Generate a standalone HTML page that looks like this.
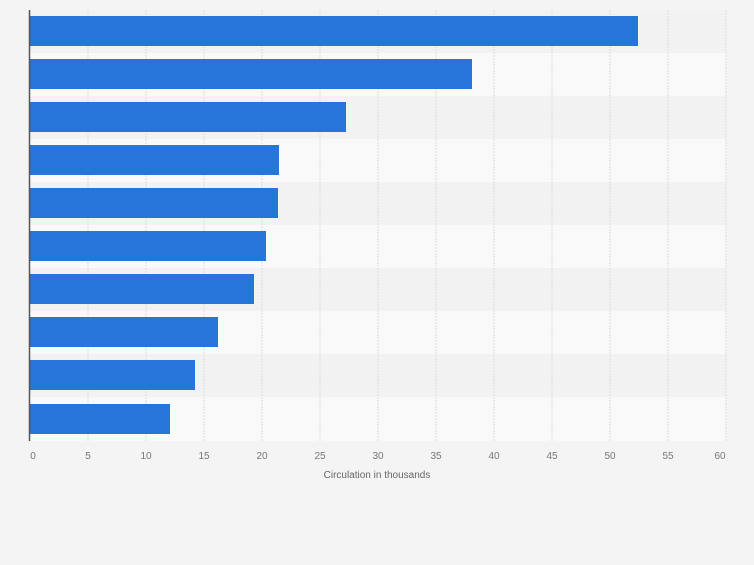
<!DOCTYPE html>
<html><head><style>
body{margin:0;background:#f4f4f4;}
</style></head><body>
<svg width="754" height="560" xmlns="http://www.w3.org/2000/svg" font-family="Liberation Sans, sans-serif">
<rect width="754" height="560" fill="#f4f4f4"/>
<g>
<rect x="30" y="10" width="696" height="43" fill="#f2f2f2"/>
<rect x="30" y="53" width="696" height="43" fill="#f9f9f9"/>
<rect x="30" y="96" width="696" height="43" fill="#f2f2f2"/>
<rect x="30" y="139" width="696" height="43" fill="#f9f9f9"/>
<rect x="30" y="182" width="696" height="43" fill="#f2f2f2"/>
<rect x="30" y="225" width="696" height="43" fill="#f9f9f9"/>
<rect x="30" y="268" width="696" height="43" fill="#f2f2f2"/>
<rect x="30" y="311" width="696" height="43" fill="#f9f9f9"/>
<rect x="30" y="354" width="696" height="43" fill="#f2f2f2"/>
<rect x="30" y="397" width="696" height="44" fill="#f9f9f9"/>
</g>
<g stroke="#dcdcdc" stroke-dasharray="2,1" stroke-width="1">
<line x1="88" y1="10" x2="88" y2="441"/><line x1="146" y1="10" x2="146" y2="441"/>
<line x1="204" y1="10" x2="204" y2="441"/><line x1="262" y1="10" x2="262" y2="441"/>
<line x1="320" y1="10" x2="320" y2="441"/><line x1="378" y1="10" x2="378" y2="441"/>
<line x1="436" y1="10" x2="436" y2="441"/><line x1="494" y1="10" x2="494" y2="441"/>
<line x1="552" y1="10" x2="552" y2="441"/><line x1="610" y1="10" x2="610" y2="441"/>
<line x1="668" y1="10" x2="668" y2="441"/><line x1="726" y1="10" x2="726" y2="441"/>
</g>
<g fill="#2775db">
<rect x="30" y="16" width="608" height="30"/>
<rect x="30" y="59" width="442" height="30"/>
<rect x="30" y="102" width="316" height="30"/>
<rect x="30" y="145" width="249" height="30"/>
<rect x="30" y="188" width="248" height="30"/>
<rect x="30" y="231" width="236" height="30"/>
<rect x="30" y="274" width="224" height="30"/>
<rect x="30" y="317" width="188" height="30"/>
<rect x="30" y="360" width="165" height="30"/>
<rect x="30" y="404" width="140" height="30"/>
</g>
<line x1="29.5" y1="10" x2="29.5" y2="441" stroke="#555" stroke-width="1.5"/>
<g font-size="10" fill="#777" text-anchor="middle">
<text x="33" y="459">0</text><text x="88" y="459">5</text><text x="146" y="459">10</text>
<text x="204" y="459">15</text><text x="262" y="459">20</text><text x="320" y="459">25</text>
<text x="378" y="459">30</text><text x="436" y="459">35</text><text x="494" y="459">40</text>
<text x="552" y="459">45</text><text x="610" y="459">50</text><text x="668" y="459">55</text>
<text x="720" y="459">60</text>
</g>
<text x="377" y="478" font-size="10" fill="#666" text-anchor="middle">Circulation in thousands</text>
</svg>
</body></html>
